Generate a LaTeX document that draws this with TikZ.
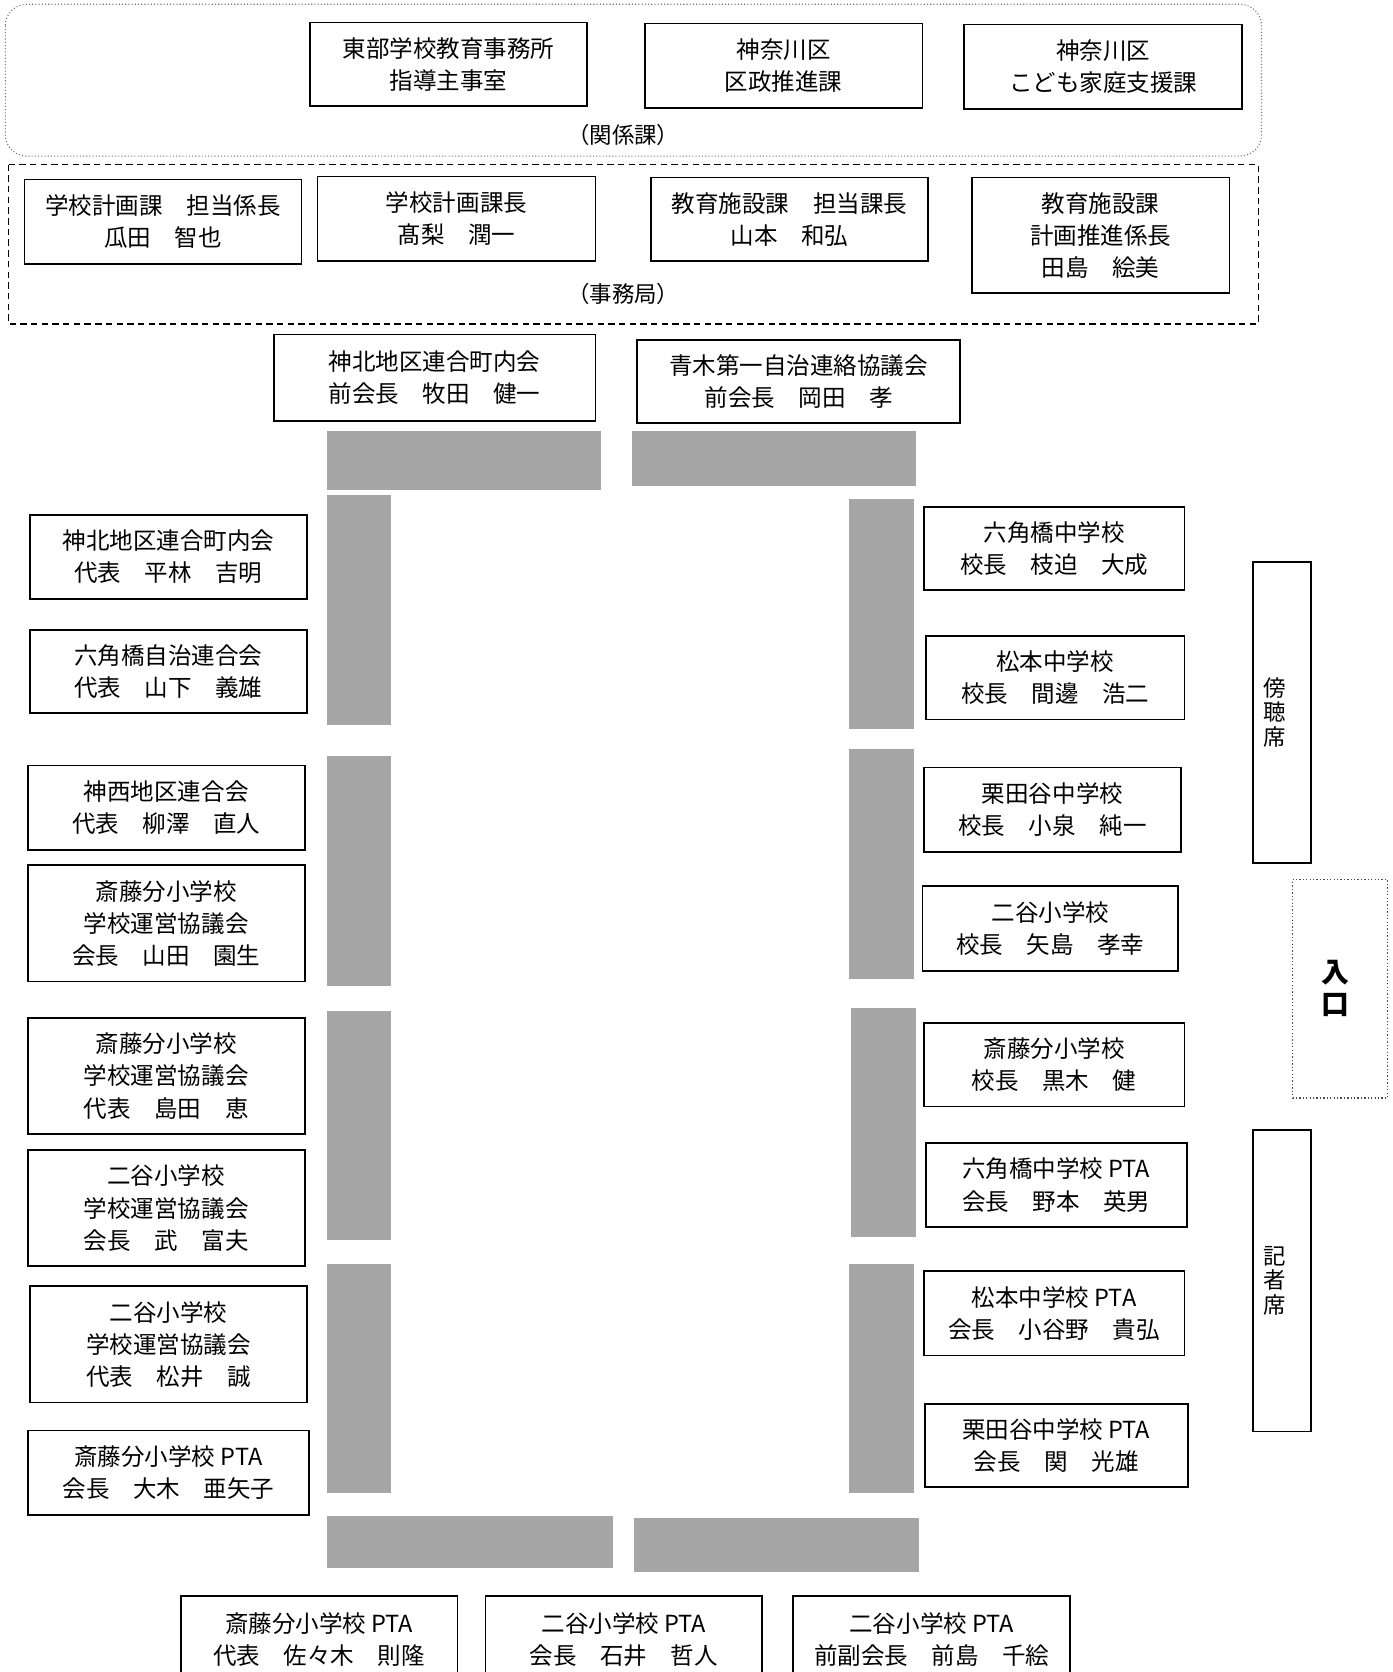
\documentclass[tikz,border=0pt]{standalone}
\usepackage{fontspec}
\setmainfont{Noto Sans CJK JP}
\usetikzlibrary{fit}

\tikzset{
  seat/.style={draw, line width=0.8pt, inner sep=0pt},
  txt/.style={align=center, inner sep=0pt,
    font=\fontsize{11}{15}\selectfont},
  desk/.style={fill=black!35},
  note/.style={font=\fontsize{10.5}{15}\selectfont},
  sidetext/.style={align=center, xshift=-3.5pt,
    font=\fontsize{10.5}{11.5}\selectfont}
}

\begin{document}
\begin{tikzpicture}[x=0.5pt, y=-0.5pt]
  \useasboundingbox (0,0) rectangle (1303,1564);

  % groups
  \draw[black!55, densely dotted, line width=0.5pt, rounded corners=10pt] (5,4) rectangle (1180,146);
  \node[note] (kankei) at (583,126) {（関係課）};
  \draw[densely dashed, line width=0.6pt] (8,154) rectangle (1177,303);
  \node[note] (jimu) at (583,275) {（事務局）};

  \node[seat, fit={(290,21) (549,99)}, label={[txt]center:{東部学校教育事務所\\指導主事室}}] (tobu) {};
  \node[seat, fit={(603,22) (863,101)}, label={[txt]center:{神奈川区\\区政推進課}}] (kusei) {};
  \node[seat, fit={(902,23) (1162,102)}, label={[txt]center:{神奈川区\\こども家庭支援課}}] (kodomo) {};

  \node[seat, fit={(23,168) (282,247)}, label={[txt]center:{学校計画課　担当係長\\瓜田　智也}}] (keikakuKakari) {};
  \node[seat, fit={(297,165) (557,244)}, label={[txt]center:{学校計画課長\\髙梨　潤一}}] (keikakuKacho) {};
  \node[seat, fit={(609,166) (868,244)}, label={[txt]center:{教育施設課　担当課長\\山本　和弘}}] (shisetsuKacho) {};
  \node[seat, fit={(909,166) (1150,274)}, label={[txt]center:{教育施設課\\計画推進係長\\田島　絵美}}] (shisetsuKakari) {};

  % head
  \node[seat, fit={(256,313) (557,394)}, label={[txt]center:{神北地区連合町内会\\前会長　牧田　健一}}] (kamikitaZen) {};
  \node[seat, fit={(596,318) (898,396)}, label={[txt]center:{青木第一自治連絡協議会\\前会長　岡田　孝}}] (aokiZen) {};

  % tables
  \fill[desk] (306,403) rectangle (562,458);
  \fill[desk] (591,403) rectangle (857,455);
  \fill[desk] (306,463) rectangle (366,678);
  \fill[desk] (306,707) rectangle (366,922);
  \fill[desk] (306,946) rectangle (366,1160);
  \fill[desk] (306,1182) rectangle (366,1397);
  \fill[desk] (794,467) rectangle (855,682);
  \fill[desk] (794,701) rectangle (855,916);
  \fill[desk] (796,943) rectangle (857,1157);
  \fill[desk] (794,1182) rectangle (855,1397);
  \fill[desk] (306,1418) rectangle (573,1467);
  \fill[desk] (593,1420) rectangle (860,1470);

  % left side
  \node[seat, fit={(28,482) (287,560)}, label={[txt]center:{神北地区連合町内会\\代表　平林　吉明}}] (kamikita) {};
  \node[seat, fit={(28,589) (287,667)}, label={[txt]center:{六角橋自治連合会\\代表　山下　義雄}}] (rokkaku) {};
  \node[seat, fit={(26,716) (285,795)}, label={[txt]center:{神西地区連合会\\代表　柳澤　直人}}] (kaminishi) {};
  \node[seat, fit={(26,809) (285,918)}, label={[txt]center:{斎藤分小学校\\学校運営協議会\\会長　山田　園生}}] (saitoUnA) {};
  \node[seat, fit={(26,952) (285,1061)}, label={[txt]center:{斎藤分小学校\\学校運営協議会\\代表　島田　恵}}] (saitoUnB) {};
  \node[seat, fit={(26,1076) (285,1184)}, label={[txt]center:{二谷小学校\\学校運営協議会\\会長　武　富夫}}] (futayaUnA) {};
  \node[seat, fit={(28,1203) (287,1312)}, label={[txt]center:{二谷小学校\\学校運営協議会\\代表　松井　誠}}] (futayaUnB) {};
  \node[seat, fit={(26,1338) (289,1417)}, label={[txt]center:{斎藤分小学校 PTA\\会長　大木　亜矢子}}] (saitoPtaA) {};

  % right side
  \node[seat, fit={(864,474) (1108,552)}, label={[txt]center:{六角橋中学校\\校長　枝迫　大成}}] (rokuChu) {};
  \node[seat, fit={(866,595) (1108,673)}, label={[txt]center:{松本中学校\\校長　間邊　浩二}}] (matsuChu) {};
  \node[seat, fit={(864,718) (1105,797)}, label={[txt]center:{栗田谷中学校\\校長　小泉　純一}}] (kuriChu) {};
  \node[seat, fit={(863,829) (1102,908)}, label={[txt]center:{二谷小学校\\校長　矢島　孝幸}}] (futaSho) {};
  \node[seat, fit={(864,957) (1108,1035)}, label={[txt]center:{斎藤分小学校\\校長　黒木　健}}] (saitoSho) {};
  \node[seat, fit={(866,1069) (1110,1148)}, label={[txt]center:{六角橋中学校 PTA\\会長　野本　英男}}] (rokuPta) {};
  \node[seat, fit={(864,1189) (1108,1268)}, label={[txt]center:{松本中学校 PTA\\会長　小谷野　貴弘}}] (matsuPta) {};
  \node[seat, fit={(865,1313) (1111,1391)}, label={[txt]center:{栗田谷中学校 PTA\\会長　関　光雄}}] (kuriPta) {};

  % gallery, entrance
  \node[seat, fit={(1172,526) (1226,807)}, label={[sidetext]center:{傍\\聴\\席}}] (bocho) {};
  \node[draw=black!70, densely dotted, line width=0.6pt, inner sep=0pt, fit={(1209,823) (1298,1027)},
    label={[align=center, xshift=-2pt, font=\fontsize{13}{15}\bfseries]center:{入\\口}}] (iriguchi) {};
  \node[seat, fit={(1172,1057) (1226,1339)}, label={[sidetext]center:{記\\者\\席}}] (kisha) {};

  % bottom
  \node[seat, fit={(169,1493) (428,1575)}, label={[txt]center:{斎藤分小学校 PTA\\代表　佐々木　則隆}}] (saitoPtaB) {};
  \node[seat, fit={(454,1493) (713,1575)}, label={[txt]center:{二谷小学校 PTA\\会長　石井　哲人}}] (futaPtaA) {};
  \node[seat, fit={(742,1493) (1001,1575)}, label={[txt]center:{二谷小学校 PTA\\前副会長　前島　千絵}}] (futaPtaB) {};
\end{tikzpicture}
\end{document}
